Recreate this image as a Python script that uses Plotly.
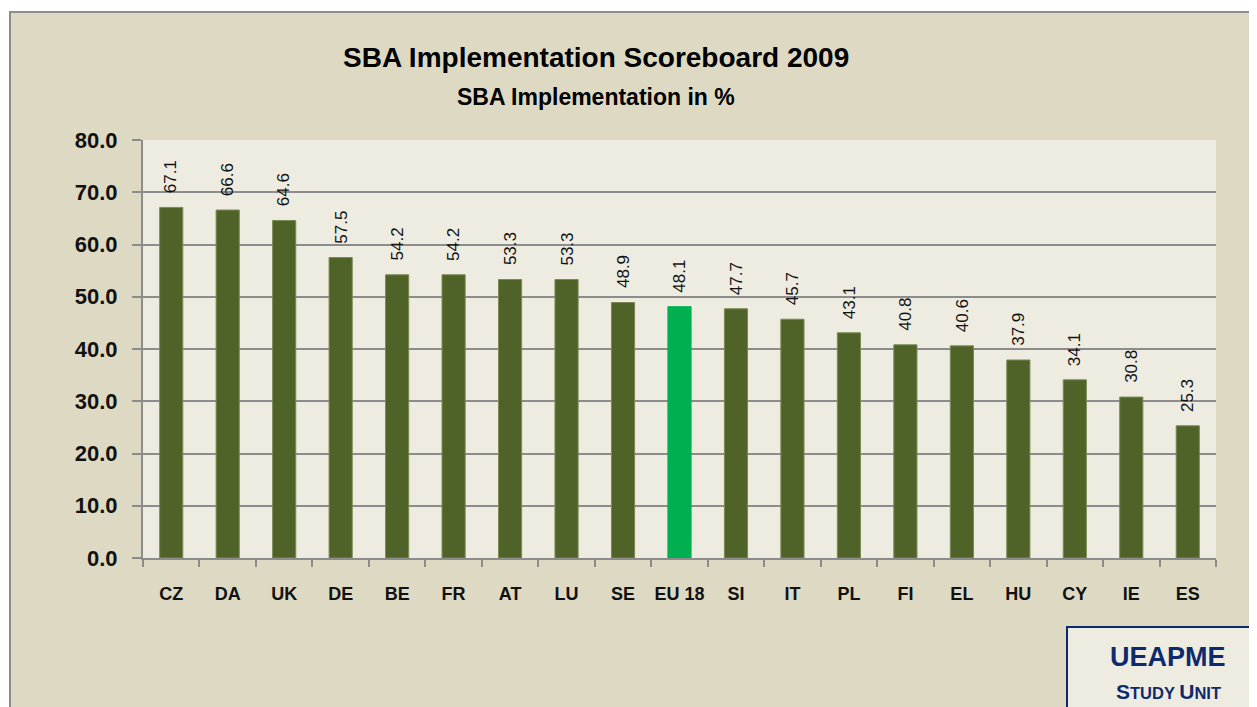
import plotly.graph_objects as go

countries = ["CZ", "DA", "UK", "DE", "BE", "FR", "AT", "LU", "SE", "EU 18",
             "SI", "IT", "PL", "FI", "EL", "HU", "CY", "IE", "ES"]
values = [67.1, 66.6, 64.6, 57.5, 54.2, 54.2, 53.3, 53.3, 48.9, 48.1,
          47.7, 45.7, 43.1, 40.8, 40.6, 37.9, 34.1, 30.8, 25.3]
highlight = "EU 18"

title_text = "SBA Implementation Scoreboard 2009"
subtitle_text = "SBA Implementation in %"

# page has an 8px body margin: figure is drawn 8px shifted
OFF = 8
W, H = 1257 - OFF, 707 - OFF
PL_, PR_, PT_, PB_ = 143, 1216, 140, 558  # plot area in screenshot pixels
L, T = PL_ - OFF, PT_ - OFF
R = W - (PR_ - OFF)
B = H - (PB_ - OFF)
PW = PR_ - PL_
PH = PB_ - PT_

def px(p):
    return (p - PL_) / PW

def py(p):
    return (PB_ - p) / PH

FONT = "Liberation Sans, Arial, sans-serif"
OLIVE = "#4F6228"
GREEN = "#00B050"
GRID = "#8C8C8C"
NAVY = "#0E2A6E"

colors = [GREEN if c == highlight else OLIVE for c in countries]
lines = ["#00B050" if c == highlight else "#7A8A55" for c in countries]

fig = go.Figure()
fig.add_trace(go.Bar(
    x=countries, y=values, width=0.41,
    marker=dict(color=colors, line=dict(color=lines, width=1)),
    hoverinfo="x+y",
))

annotations = []
for c, v in zip(countries, values):
    annotations.append(dict(
        x=c, y=v, xref="x", yref="y", text=f"{v:.1f}", textangle=-90,
        showarrow=False, yanchor="bottom", xanchor="center", yshift=12,
        font=dict(family=FONT, size=17, color="#111111"),
    ))

annotations.append(dict(
    x=px(596), y=py(58), xref="paper", yref="paper", text=f"<b>{title_text}</b>",
    showarrow=False, xanchor="center", yanchor="middle",
    font=dict(family=FONT, size=28, color="#000000"),
))
annotations.append(dict(
    x=px(596), y=py(97), xref="paper", yref="paper", text=f"<b>{subtitle_text}</b>",
    showarrow=False, xanchor="center", yanchor="middle",
    font=dict(family=FONT, size=23, color="#000000"),
))
annotations.append(dict(
    x=px(1168), y=py(657), xref="paper", yref="paper", text="<b>UEAPME</b>",
    showarrow=False, xanchor="center", yanchor="middle",
    font=dict(family=FONT, size=27, color=NAVY),
))
annotations.append(dict(
    x=px(1168), y=py(691), xref="paper", yref="paper",
    text="<b><span style='font-size:21px'>S</span>TUDY <span style='font-size:21px'>U</span>NIT</b>",
    showarrow=False, xanchor="center", yanchor="middle",
    font=dict(family=FONT, size=16.5, color=NAVY),
))

shapes = [
    dict(type="rect", xref="paper", yref="paper", layer="below",
         x0=px(10), x1=px(1275), y0=py(12), y1=py(725),
         fillcolor="#DDD9C3", line=dict(color="#8C8C8C", width=2)),
    dict(type="rect", xref="paper", yref="paper", layer="below",
         x0=0, x1=1, y0=0, y1=1, fillcolor="#EEECE1", line=dict(width=0)),
    dict(type="rect", xref="paper", yref="paper", layer="above",
         x0=px(1067), x1=px(1275), y0=py(627), y1=py(725),
         fillcolor="#EEECE1", line=dict(color=NAVY, width=2)),
]

fig.update_layout(
    width=W, height=H, autosize=False,
    margin=dict(l=L, r=R, t=T, b=B, pad=0),
    paper_bgcolor="#FFFFFF", plot_bgcolor="rgba(0,0,0,0)",
    showlegend=False,
    annotations=annotations, shapes=shapes,
    xaxis=dict(
        type="category", range=[-0.5, len(countries) - 0.5],
        tickson="boundaries", ticks="outside", ticklen=7, tickwidth=2,
        tickcolor=GRID, showline=True, linecolor=GRID, linewidth=2,
        showgrid=False, ticklabelstandoff=18, tickangle=0,
        tickfont=dict(family=FONT, size=18, color="#111111", weight="bold"),
        fixedrange=True,
    ),
    yaxis=dict(
        range=[0, 80], dtick=10, tick0=0, tickformat=".1f",
        showgrid=True, gridcolor=GRID, gridwidth=2,
        showline=True, linecolor=GRID, linewidth=2,
        ticks="outside", ticklen=9, tickwidth=2, tickcolor=GRID,
        ticklabelstandoff=10, zeroline=False,
        tickfont=dict(family=FONT, size=22, color="#111111", weight="bold"),
        fixedrange=True,
    ),
)

fig.write_html("out.html")
